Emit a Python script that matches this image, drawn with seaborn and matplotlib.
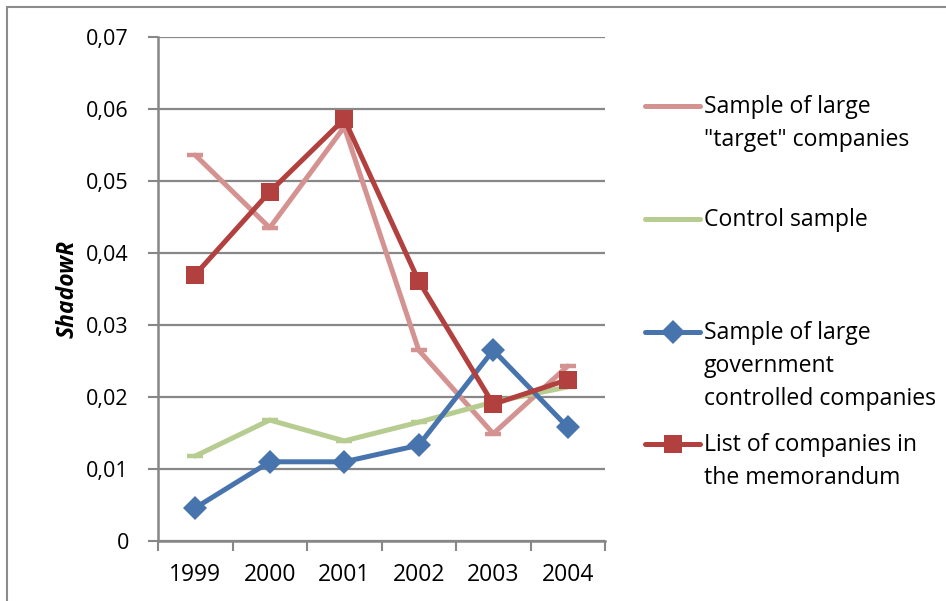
import matplotlib
matplotlib.use("Agg")
import matplotlib.pyplot as plt
from matplotlib.lines import Line2D
import numpy as np
import pandas as pd
import seaborn as sns

# ---- data -------------------------------------------------------------
years = [1999, 2000, 2001, 2002, 2003, 2004]
target_large = [0.0536, 0.0435, 0.0575, 0.0265, 0.0149, 0.0243]
control = [0.0118, 0.0168, 0.0139, 0.0165, 0.0193, 0.0214]
gov_controlled = [0.0046, 0.0110, 0.0110, 0.0133, 0.0265, 0.0158]
memorandum = [0.0370, 0.0485, 0.0586, 0.0361, 0.0190, 0.0224]

y_ticks = [0.0, 0.01, 0.02, 0.03, 0.04, 0.05, 0.06, 0.07]
y_tick_labels = ["0", "0,01", "0,02", "0,03", "0,04", "0,05", "0,06", "0,07"]

series_names = [
    'Sample of large\n"target" companies',
    "Control sample",
    "Sample of large\ngovernment\ncontrolled companies",
    "List of companies in\nthe memorandum",
]
series_values = [target_large, control, gov_controlled, memorandum]

# ---- styling ----------------------------------------------------------
sns.set_theme(style="white")
plt.rcParams["font.family"] = ["Open Sans", "DejaVu Sans"]

colors = ["#D49291", "#B7CC90", "#4874AE", "#B1403F"]
markers = ["_", "_", "D", "s"]
msizes = [11, 11, 12, 13]
mews = [3.2, 3.2, 0, 0]
GRID = "#878787"
FS_Y = 15.5
FS_X = 16.5
FS_LEG = 16.6

df = pd.concat(
    [pd.DataFrame({"year": years, "value": v, "series": n})
     for n, v in zip(series_names, series_values)],
    ignore_index=True,
)

fig = plt.figure(figsize=(9.46, 6.01), dpi=100)
ax = fig.add_axes([158 / 946, 1 - 541 / 601, (605 - 158) / 946, (541 - 37) / 601])

for i, name in enumerate(series_names):
    sub = df[df["series"] == name]
    sns.lineplot(
        data=sub, x="year", y="value", ax=ax, color=colors[i],
        linewidth=3.6, marker=markers[i], markersize=msizes[i],
        markeredgewidth=mews[i], markeredgecolor=colors[i],
        markerfacecolor=colors[i], zorder=3 + i, legend=False,
    )

# axes, ticks and grid
ax.set_xlim(years[0] - 0.5, years[-1] + 0.5)
ax.set_ylim(0, 0.07)
ax.set_yticks(y_ticks)
ax.set_yticklabels(y_tick_labels, fontsize=FS_Y, color="black")
ax.set_xticks(years)
ax.set_xticklabels([str(y) for y in years], fontsize=FS_X, color="black")
ax.set_xticks(np.arange(years[0] - 0.5, years[-1] + 0.6, 1.0), minor=True)
ax.tick_params(axis="x", which="major", length=0, pad=16)
ax.tick_params(axis="x", which="minor", length=7, width=1.5, color=GRID, bottom=True)
ax.tick_params(axis="y", which="major", length=7, width=1.5, color=GRID, left=True, pad=14)
ax.yaxis.grid(True, color=GRID, linewidth=1.6, zorder=0)
ax.set_axisbelow(True)
for side in ["top", "right"]:
    ax.spines[side].set_visible(False)
for side in ["left", "bottom"]:
    ax.spines[side].set_color(GRID)
    ax.spines[side].set_linewidth(1.8)
ax.set_xlabel("")
ax.set_ylabel("ShadowR", fontsize=16.5, fontweight="bold", fontstyle="italic",
              color="black", labelpad=5)

# legend drawn entry by entry on the figure
def fx(px):
    return px / 946

def fy(py):
    return 1 - py / 601

legend_y = [106, 219, 332, 444]
LINE_STEP = 33
for i, name in enumerate(series_names):
    y = fy(legend_y[i])
    fig.add_artist(Line2D([fx(645), fx(700)], [y, y], color=colors[i],
                          linewidth=3.6, solid_capstyle="round",
                          transform=fig.transFigure))
    if markers[i] in ("D", "s"):
        fig.add_artist(Line2D([fx(672.5)], [y], marker=markers[i],
                              markersize=msizes[i], color=colors[i],
                              markeredgewidth=0, transform=fig.transFigure))
    for k, line in enumerate(name.split("\n")):
        fig.text(fx(704), fy(legend_y[i] + 7 + k * LINE_STEP), line,
                 fontsize=FS_LEG, color="black", ha="left", va="baseline",
                 transform=fig.transFigure)

# outer chart frame (top and left edges)
fig.add_artist(Line2D([fx(7), fx(946)], [fy(7), fy(7)], color="#8C8C8C",
                      linewidth=1.5, transform=fig.transFigure))
fig.add_artist(Line2D([fx(7), fx(7)], [fy(7), fy(601)], color="#8C8C8C",
                      linewidth=1.5, transform=fig.transFigure))

fig.savefig("out.png", dpi=100, facecolor="white")
